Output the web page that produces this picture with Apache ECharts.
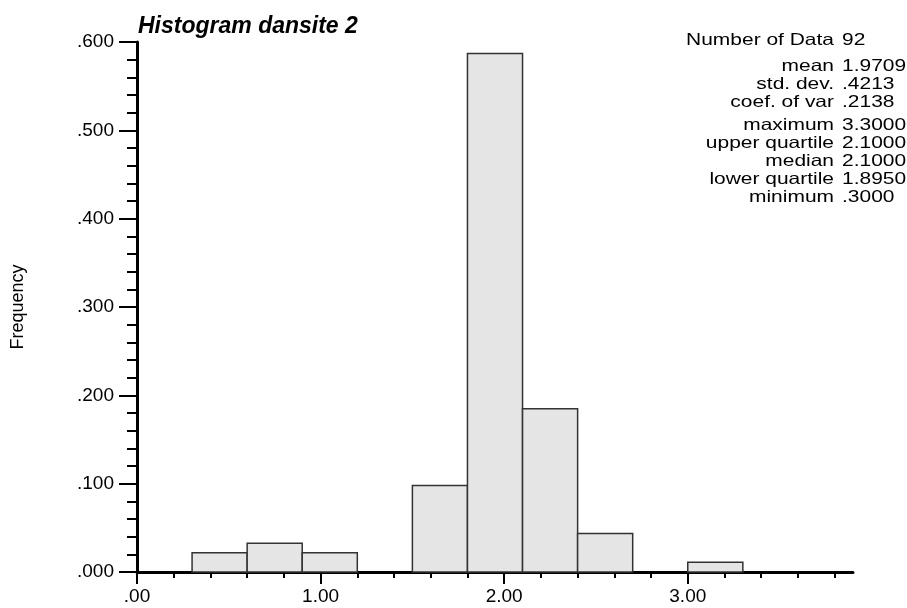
<!DOCTYPE html>
<html><head><meta charset="utf-8">
<script src="https://cdn.jsdelivr.net/npm/echarts@6/dist/echarts.min.js"></script>
<style>html,body{margin:0;padding:0;background:#fff}#c{width:907px;height:608px}</style>
</head><body><div id="c"></div>
<script>
// Histogram bins (lower and upper class limits) and relative frequencies
const binLow = [0.3, 0.6, 0.9, 1.5, 1.8, 2.1, 2.4, 3.0];
const binHigh = [0.6, 0.9, 1.2, 1.8, 2.1, 2.4, 2.7, 3.3];
const frequency = [0.0217, 0.0326, 0.0217, 0.0978, 0.5870, 0.1848, 0.0435, 0.0109];
// Axis ticks
const xMajorTicks = [0, 1, 2, 3];
const xMinorTicks = [0.2, 0.4, 0.6, 0.8, 1.2, 1.4, 1.6, 1.8, 2.2, 2.4, 2.6, 2.8, 3.2, 3.4, 3.6, 3.8];
// Summary statistics
const statLabels = ['Number of Data', 'mean', 'std. dev.', 'coef. of var', 'maximum', 'upper quartile', 'median', 'lower quartile', 'minimum'];
const statValues = ['92', '1.9709', '.4213', '.2138', '3.3000', '2.1000', '2.1000', '1.8950', '.3000'];

const statRowY = [40, 66, 84, 102, 125, 143, 161, 179, 197];
const FONT = '"Liberation Sans", Arial, sans-serif';
const SX = 1.27;

const graphics = [];
statLabels.forEach((t, i) => {
  graphics.push({type: 'text', x: 834, y: statRowY[i], scaleX: SX,
    style: {text: t, fill: '#000', font: '16.5px ' + FONT, textAlign: 'right', align: 'right', textVerticalAlign: 'middle', verticalAlign: 'middle'}});
  graphics.push({type: 'text', x: 842, y: statRowY[i], scaleX: SX,
    style: {text: statValues[i], fill: '#000', font: '16.5px ' + FONT, textAlign: 'left', align: 'left', textVerticalAlign: 'middle', verticalAlign: 'middle'}});
});

const chart = echarts.init(document.getElementById('c'), null, {renderer: 'canvas'});
chart.setOption({
  animation: false,
  backgroundColor: '#fff',
  title: {text: 'Histogram dansite 2', left: 133, top: 10,
    textStyle: {fontStyle: 'italic', fontWeight: 'bold', fontSize: 23, fontFamily: FONT, color: '#000'}},
  grid: {left: 137, right: 54, top: 42, bottom: 36, containLabel: false, outerBoundsMode: 'none'},
  xAxis: [{
    type: 'value', min: 0, max: 3.9, position: 'bottom',
    axisLine: {show: true, onZero: false, lineStyle: {color: '#000', width: 3}},
    axisTick: {show: true, customValues: xMajorTicks, length: 12, lineStyle: {color: '#000', width: 2}},
    axisLabel: {customValues: xMajorTicks, color: '#000', fontSize: 19, fontFamily: FONT, margin: 15,
      formatter: v => v.toFixed(2).replace(/^0/, '')},
    splitLine: {show: false}
  }, {
    type: 'value', min: 0, max: 3.9, position: 'bottom',
    axisLine: {show: false, onZero: false},
    axisTick: {show: true, customValues: xMinorTicks, length: 6, lineStyle: {color: '#000', width: 2}},
    axisLabel: {show: false},
    splitLine: {show: false}
  }],
  yAxis: {
    type: 'value', min: 0, max: 0.6, interval: 0.1,
    name: 'Frequency', nameLocation: 'middle', nameRotate: 90, nameGap: 110,
    nameTextStyle: {color: '#000', fontSize: 18, fontFamily: FONT},
    axisLine: {show: true, onZero: false, lineStyle: {color: '#000', width: 3}},
    axisTick: {show: true, length: 18, lineStyle: {color: '#000', width: 2}},
    minorTick: {show: true, splitNumber: 5, length: 10, lineStyle: {color: '#000', width: 2}},
    axisLabel: {color: '#000', fontSize: 19, fontFamily: FONT, margin: 23,
      formatter: v => v.toFixed(3).replace(/^0/, '')},
    splitLine: {show: false},
    minorSplitLine: {show: false}
  },
  graphic: graphics,
  series: [{
    type: 'custom',
    xAxisIndex: 0,
    renderItem: function (params, api) {
      const p0 = api.coord([api.value(0), api.value(2)]);
      const p1 = api.coord([api.value(1), 0]);
      return {type: 'rect',
        shape: {x: p0[0], y: p0[1], width: p1[0] - p0[0], height: p1[1] - p0[1]},
        style: {fill: '#e5e5e5', stroke: '#333', lineWidth: 1.5}};
    },
    encode: {x: [0, 1], y: 2},
    data: binLow.map((lo, i) => [lo, binHigh[i], frequency[i]])
  }]
});
</script></body></html>
